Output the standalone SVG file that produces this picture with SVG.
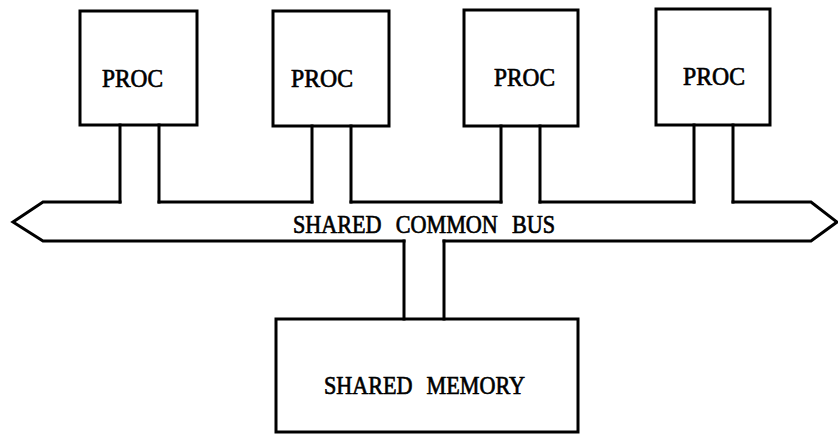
<svg xmlns="http://www.w3.org/2000/svg" width="838" height="435" viewBox="0 0 838 435">
  <style>
    .box { fill: none; stroke: #000; stroke-width: 3; }
    .edge { fill: none; stroke: #000; stroke-width: 3; stroke-linecap: square; stroke-linejoin: miter; }
    .lbl { font-family: "Liberation Serif", "DejaVu Serif", serif; font-size: 26px; fill: #000; stroke: #000; stroke-width: 0.7; }
    .wide { word-spacing: 10px; }
  </style>
  <rect width="838" height="435" fill="#fff"/>

  <!-- processors -->
  <g id="proc1">
    <rect class="box" x="80" y="11" width="117" height="114"/>
    <text class="lbl" x="102" y="87" textLength="61" lengthAdjust="spacingAndGlyphs">PROC</text>
  </g>
  <g id="proc2">
    <rect class="box" x="273" y="11" width="116" height="115"/>
    <text class="lbl" x="291" y="87" textLength="62" lengthAdjust="spacingAndGlyphs">PROC</text>
  </g>
  <g id="proc3">
    <rect class="box" x="464" y="10" width="114" height="116"/>
    <text class="lbl" x="494" y="86" textLength="61" lengthAdjust="spacingAndGlyphs">PROC</text>
  </g>
  <g id="proc4">
    <rect class="box" x="656" y="9" width="114" height="116"/>
    <text class="lbl" x="683" y="85" textLength="62" lengthAdjust="spacingAndGlyphs">PROC</text>
  </g>

  <!-- shared common bus: double-headed arrow body -->
  <g id="bus">
    <path class="edge" d="M120,202 H43 L13,222 L43,241 H404"/>
    <path class="edge" d="M159,202 H312"/>
    <path class="edge" d="M351,202 H501"/>
    <path class="edge" d="M540,202 H694"/>
    <path class="edge" d="M733,202 H811 L837,222 L811,241 H444"/>
    <text class="lbl wide" x="293" y="233" textLength="262" lengthAdjust="spacingAndGlyphs">SHARED COMMON BUS</text>
  </g>

  <!-- shared memory -->
  <g id="memory">
    <rect class="box" x="276" y="319" width="302" height="113"/>
    <text class="lbl wide" x="324" y="394" textLength="201" lengthAdjust="spacingAndGlyphs">SHARED MEMORY</text>
  </g>

  <!-- two-wire taps between the units and the bus -->
  <g id="connectors">
    <path class="edge" d="M120,125 V202 M159,125 V202"/>
    <path class="edge" d="M312,126 V202 M351,126 V202"/>
    <path class="edge" d="M501,126 V202 M540,126 V202"/>
    <path class="edge" d="M694,125 V202 M733,125 V202"/>
    <path class="edge" d="M404,241 V319 M444,241 V319"/>
  </g>
</svg>
